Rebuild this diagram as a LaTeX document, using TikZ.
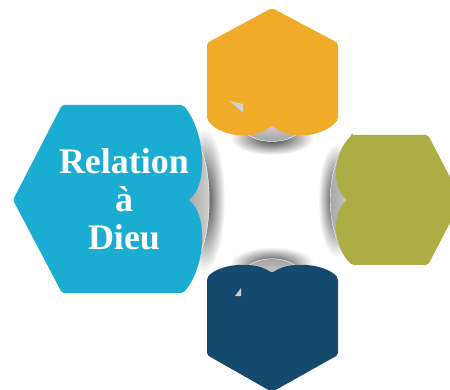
\documentclass[tikz,border=0pt]{standalone}
\usepackage{fontspec}
\newfontfamily\titlefont{Liberation Serif}
\definecolor{cOrange}{HTML}{F0AC28}
\definecolor{cCyan}{HTML}{1AACD1}
\definecolor{cOlive}{HTML}{ADAD45}
\definecolor{cNavy}{HTML}{134A6D}
\begin{document}
\begin{tikzpicture}[x=1pt,y=-1pt,
  hexshape/.style={rounded corners=2pt},
  blurshadow/.style={inner color=black!80,outer color=white},
  curl/.style={draw=white,line width=0.4pt},
  label/.style={text=white,font=\titlefont\bfseries\fontsize{36}{38}\selectfont,anchor=base,inner sep=0pt}]
\useasboundingbox (0,0) rectangle (450,390);
\clip (0,0) rectangle (450,390);
% blurred shadows
\shade[blurshadow] (272,138) ellipse (42 and 17);
\shade[blurshadow] (204,200) ellipse (21 and 72);
\shade[blurshadow] (336,200) ellipse (18 and 57);
\shade[blurshadow] (272,264) ellipse (42 and 17);
% curls
\shade[curl,top color=gray!25,bottom color=gray!80] (244,131) -- (272,118) -- (300,131) .. controls (288,145) and (256,145) .. cycle;
\shade[curl,left color=gray!80,right color=gray!30] (195,138) -- (180,200) -- (195,262) .. controls (214,238) and (214,162) .. cycle;
\shade[curl,left color=gray!75,right color=gray!25] (343,150) -- (358,200) -- (343,250) .. controls (326,228) and (326,172) .. cycle;
\shade[curl,top color=gray!80,bottom color=gray!25] (244,270) -- (272,282) -- (300,270) .. controls (288,255) and (256,255) .. cycle;
% top (orange)
\fill[cOrange,hexshape] (272,8) -- (338,43) -- (338,119)
  .. controls (326,136) and (290,142) .. (272,125)
  .. controls (254,142) and (218,136) .. (207,119) -- (207,43) -- cycle;
\fill[gray!35] (230,101) -- (243,104) -- (243,113) -- cycle;
% left (cyan)
\fill[cCyan,hexshape] (62,105) -- (183,105)
  .. controls (206,132) and (208,186) .. (188,200)
  .. controls (208,214) and (206,268) .. (183,293)
  -- (62,293) -- (13,200) -- cycle;
% right (olive)
\fill[cOlive,hexshape] (352,135) -- (428,135) -- (462,200) -- (428,265) -- (352,265)
  .. controls (332,246) and (332,212) .. (347,200)
  .. controls (332,188) and (332,154) .. cycle;
% bottom (navy)
\fill[cNavy,hexshape] (207,278)
  .. controls (218,264) and (254,260) .. (272,273)
  .. controls (290,260) and (326,264) .. (338,278)
  -- (338,355) -- (272,392) -- (207,355) -- cycle;
\fill[gray!40] (241,288) -- (241,296) -- (235,296) -- cycle;
% text
\node[label] (t1) at (124,174) {Relation};
\node[label] (t2) at (124,212) {à};
\node[label] (t3) at (124,250) {Dieu};
\end{tikzpicture}
\end{document}
